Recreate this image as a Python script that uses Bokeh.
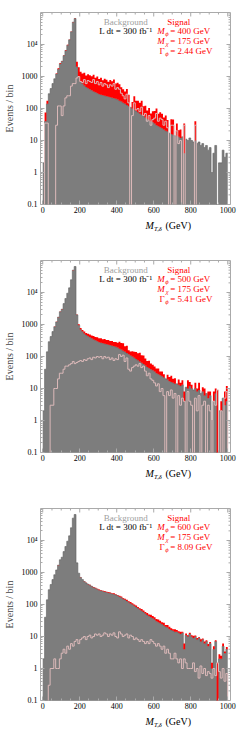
import numpy as np
from bokeh.plotting import figure
from bokeh.models import Range1d, FixedTicker, Label, ColumnDataSource
from bokeh.layouts import column
from bokeh.embed import file_html
from bokeh.resources import INLINE

# ---------------- data (events per 10 GeV bin, 0 .. 1000 GeV) ----------------
bin_lo = np.arange(0, 1000, 10)

background = [
    2, 40, 140, 290, 420, 600, 850, 1200, 1700, 2500,
    3000, 4500, 6500, 9500, 14000, 25000, 50000, 65000, 2000, 950,
    700, 600, 520, 470, 430, 400, 370, 340, 320, 300,
    280, 270, 260, 250, 240, 235, 225, 215, 210, 200,
    190, 175, 165, 150, 140, 128, 118, 108, 100, 92,
    84, 76, 70, 64, 58, 52, 47, 43, 40, 37,
    34, 30, 28, 26, 24, 22, 20, 19, 17, 16,
    15, 14, 14, 13, 12, 13, 4, 11, 10, 12,
    10, 9, 10, 8, 9, 7, 8, 6, 7, 5,
    6, 1, 4, 7, 0, 2, 2, 5, 3, 4,
]

signal_400 = [
    0, 35, 35, 0, 0, 0, 0, 30, 120, 120,
    60, 120, 215, 250, 250, 500, 600, 600, 900, 1000,
    700, 650, 800, 600, 750, 700, 650, 800, 600, 700,
    550, 650, 500, 600, 550, 450, 550, 500, 600, 400,
    450, 400, 300, 250, 200, 280, 150, 0, 60, 150,
    90, 100, 80, 110, 60, 70, 40, 60, 30, 45,
    50, 70, 40, 50, 45, 30, 40, 25, 0, 30,
    30, 0, 20, 8, 10, 0, 30, 0, 0, 0,
    0, 0, 30, 0, 0, 0, 0, 0, 0, 0,
    0, 0, 0, 0, 0, 0, 0, 0, 0, 0,
]

signal_500 = [
    0, 0, 0, 0, 3, 3, 10, 10, 20, 30,
    30, 40, 50, 50, 55, 60, 70, 60, 65, 70,
    75, 70, 80, 75, 85, 90, 80, 95, 90, 100,
    95, 100, 85, 100, 90, 95, 80, 90, 75, 85,
    80, 115, 100, 110, 70, 90, 40, 35, 45, 50,
    55, 50, 60, 45, 50, 35, 25, 30, 20, 18,
    15, 12, 14, 8, 10, 6, 0, 8, 6, 9,
    5, 7, 0, 6, 3, 5, 4, 0, 8, 4,
    3, 0, 5, 2, 6, 0, 3, 4, 0, 3,
    2, 0, 4, 3, 9, 0, 2, 0, 5, 8,
]

signal_600 = [
    0, 0, 0, 0.3, 1, 1, 2, 1, 1, 2,
    3, 4, 3, 5, 4, 6, 5, 7, 8, 6,
    8, 9, 10, 8, 10, 11, 9, 10, 12, 11,
    12, 10, 11, 13, 12, 10, 12, 11, 13, 10,
    9, 14, 12, 10, 11, 12, 9, 11, 10, 8,
    9, 8, 7, 8, 7, 6, 7, 6, 8, 7,
    6, 5, 6, 5, 4, 5, 3, 4, 3, 2,
    2, 3, 2, 1.5, 2, 1, 2, 1.5, 1, 1,
    1, 1.5, 0.8, 1, 0.5, 1.2, 0.7, 1, 0.6, 0.8,
    0.7, 0.5, 1, 0.6, 1.5, 0.8, 0.5, 1, 0.4, 0.7,
]

m_phi = ["400", "500", "600"]
gamma_phi = ["2.44", "5.41", "8.09"]
m_chi = "175"

y_ticks = [0.1, 1, 10, 100, 1000, 10000]
y_tick_labels = ["0.1", "1", "10", "100", "1000", "10\u2074"]
x_ticks = [0, 200, 400, 600, 800, 1000]

# ---------------- styling ----------------
FONT = "Liberation Serif"
GRAY = "#7d7d7d"
GRAY_EDGE = "#5f5f5f"
RED = "#ff0000"
PINK = "#dcb9b9"
FRAME = "#aaaaaa"
FLOOR = 1e-3
X0, X1 = -12, 1015
Y0, Y1 = 0.1, 1e5
FRAME_W, FRAME_H, LEFT_B, RIGHT_B = 190, 192, 35, 8
FIG_W = LEFT_B + FRAME_W + RIGHT_B
PANEL_H = 245
AXIS_B = 14

y_minor = [m * 10.0 ** e for e in range(-1, 5) for m in range(2, 10)]
x_minor = [v for v in range(0, 1001, 50) if v % 200 != 0]


def style_axis(ax):
    ax.axis_line_color = None
    ax.major_tick_in = 4
    ax.major_tick_out = 0
    ax.minor_tick_in = 2
    ax.minor_tick_out = 0
    ax.major_tick_line_color = FRAME
    ax.minor_tick_line_color = FRAME
    ax.major_label_text_font = FONT
    ax.major_label_text_color = "black"
    ax.major_label_text_font_size = "8px"
    ax.major_label_standoff = 3


def make_label(x, y, text, color="black", size="9px", align="center",
               style="normal", x_offset=0, y_offset=0):
    return Label(x=x, y=y, text=text, text_color=color, text_font=FONT,
                 text_font_size=size, text_align=align,
                 text_baseline="middle", text_font_style=style,
                 x_offset=x_offset, y_offset=y_offset)


def make_panel(sig, mphi, gphi, top_b):
    p = figure(output_backend="svg", toolbar_location=None,
               frame_width=FRAME_W, frame_height=FRAME_H,
               min_border_left=LEFT_B, min_border_right=RIGHT_B,
               min_border_top=top_b, min_border_bottom=AXIS_B,
               x_range=Range1d(X0, X1), y_range=Range1d(Y0, Y1),
               y_axis_type="log", background_fill_color="white",
               border_fill_color="white")
    p.xgrid.visible = False
    p.ygrid.visible = False
    p.outline_line_color = FRAME
    p.outline_line_width = 1

    bkg = np.array(background, dtype=float)
    s = np.array(sig, dtype=float)
    g_top = np.maximum(bkg, FLOOR)
    tot = np.where(s > 0, bkg + s, g_top)

    edges = np.append(bin_lo, 1000)
    src = ColumnDataSource(dict(x=edges,
                                floor=np.full(len(edges), FLOOR),
                                g_top=np.append(g_top, g_top[-1]),
                                tot=np.append(tot, tot[-1])))
    p.varea_step(x="x", y1="floor", y2="g_top", step_mode="after",
                 source=src, fill_color=GRAY)
    p.step(x="x", y="g_top", mode="after", source=src,
           line_color=GRAY_EDGE, line_width=0.6)
    p.varea_step(x="x", y1="g_top", y2="tot", step_mode="after",
                 source=src, fill_color=RED)

    step_y = list(np.maximum(s, FLOOR)) + [FLOOR]
    p.step(list(edges), step_y, mode="after", line_color=PINK, line_width=1)

    # axes (left / bottom with labels)
    p.xaxis.ticker = FixedTicker(ticks=x_ticks, minor_ticks=x_minor)
    p.yaxis.ticker = FixedTicker(ticks=y_ticks, minor_ticks=y_minor)
    p.yaxis.major_label_overrides = {t: l for t, l in zip(y_ticks, y_tick_labels)}
    style_axis(p.xaxis[0])
    style_axis(p.yaxis[0])
    p.xaxis.major_label_standoff = 2
    p.yaxis.axis_label = "Events / bin"
    p.yaxis.axis_label_text_font = FONT
    p.yaxis.axis_label_text_font_style = "normal"
    p.yaxis.axis_label_text_font_size = "10px"
    p.yaxis.axis_label_standoff = 4

    # inward ticks on the right and top edges of the frame
    p.ray(x=[X1] * len(y_ticks), y=y_ticks, length=4, length_units="screen",
          angle=np.pi, line_color=FRAME, line_width=1)
    p.ray(x=[X1] * len(y_minor), y=y_minor, length=2, length_units="screen",
          angle=np.pi, line_color=FRAME, line_width=1)
    p.ray(x=x_ticks, y=[Y1] * len(x_ticks), length=4, length_units="screen",
          angle=-np.pi / 2, line_color=FRAME, line_width=1)
    p.ray(x=x_minor, y=[Y1] * len(x_minor), length=2, length_units="screen",
          angle=-np.pi / 2, line_color=FRAME, line_width=1)

    # legend texts
    p.add_layout(make_label(449, 10 ** 4.70, "Background", color="#a0a0a0"))
    p.add_layout(make_label(449, 10 ** 4.42, "L dt = 300 fb\u207b\u00b9"))
    p.add_layout(make_label(735, 10 ** 4.70, "Signal", color=RED))
    xa = 689
    rows = [("M", "italic", "\u03d5", "= " + mphi + " GeV", 4.42),
            ("M", "italic", "\u03c7", "= " + m_chi + " GeV", 4.125),
            ("\u0393", "normal", "\u03d5", "= " + gphi + " GeV", 3.81)]
    for main, mstyle, sub, rest, lyy in rows:
        p.add_layout(make_label(xa, 10 ** lyy, rest, color=RED, align="left"))
        p.add_layout(make_label(xa, 10 ** lyy, sub, color=RED, size="6.5px", align="right",
                                style="italic", x_offset=-1.5, y_offset=-2.5))
        p.add_layout(make_label(xa, 10 ** lyy, main, color=RED, align="right",
                                style=mstyle, x_offset=-5.5))

    # x axis title  M_{T,delta} (GeV) in a strip under the plot (pixel coords)
    strip_h = PANEL_H - top_b - FRAME_H - AXIS_B
    q = figure(output_backend="svg", toolbar_location=None,
               frame_width=FIG_W, frame_height=strip_h, min_border=0,
               x_range=Range1d(0, FIG_W), y_range=Range1d(-strip_h, 0),
               x_axis_location=None, y_axis_location=None,
               background_fill_color="white", border_fill_color="white")
    q.xgrid.visible = False
    q.ygrid.visible = False
    q.outline_line_color = None
    ly = -(21 - AXIS_B)
    q.add_layout(make_label(105, ly, "M", size="10px", align="left", style="italic"))
    q.add_layout(make_label(113.5, ly, "T,\u03b4", size="6.5px", align="left",
                            style="italic", y_offset=-2.5))
    q.add_layout(make_label(125, ly, "(GeV)", size="10px", align="left"))
    return column(p, q, spacing=0)


p1 = make_panel(signal_400, m_phi[0], gamma_phi[0], 12)
p2 = make_panel(signal_500, m_phi[1], gamma_phi[1], 15)
p3 = make_panel(signal_600, m_phi[2], gamma_phi[2], 18)

layout = column(p1, p2, p3, spacing=0)
open("out.html", "w").write(file_html(layout, INLINE))
